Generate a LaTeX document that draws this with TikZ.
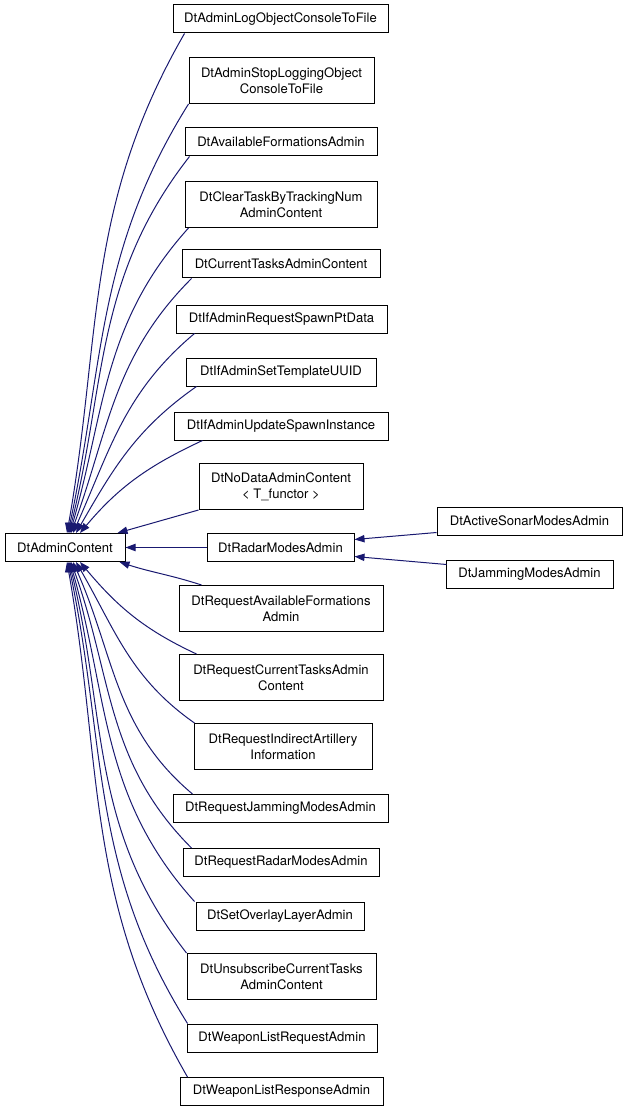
\documentclass[tikz,border=0pt]{standalone}
\usepackage{fontspec}
\setmainfont{TeX Gyre Heros}
\usetikzlibrary{arrows.meta,calc}
\definecolor{navy}{HTML}{191970}

\tikzset{
  cls/.style={draw=black, line width=0.75pt, fill=white, align=center,
    minimum width=#1*0.75pt, minimum height=21pt, inner ysep=2pt,
    font=\fontsize{9.8}{12}\selectfont},
  tall/.style={minimum height=34.5pt},
  inherit/.style={draw=navy, line width=0.75pt,
    -{Triangle[length=7.5pt,width=5.5pt]}, navy}
}

\begin{document}
\begin{tikzpicture}[x=0.75pt,y=-0.75pt]
        \useasboundingbox (0,0) rectangle (627,1112);
        % base class
        \node[cls=120] (base) at (65,547.5) {DtAdminContent};
        % derived classes
        \node[cls=215] (logobj) at (280.5,19) {DtAdminLogObjectConsoleToFile};
        \node[cls=185,tall] (stoplog) at (281.5,80.5) {DtAdminStopLoggingObject\\ConsoleToFile};
        \node[cls=192] (availform) at (281,142) {DtAvailableFormationsAdmin};
        \node[cls=192,tall] (cleartask) at (281,204.5) {DtClearTaskByTrackingNum\\AdminContent};
        \node[cls=198] (curtasks) at (281,264) {DtCurrentTasksAdminContent};
        \node[cls=211] (spawnpt) at (281.5,319) {DtIfAdminRequestSpawnPtData};
        \node[cls=190] (templ) at (281,372) {DtIfAdminSetTemplateUUID};
        \node[cls=214] (spawninst) at (281,426) {DtIfAdminUpdateSpawnInstance};
        \node[cls=164,tall] (nodata) at (281,486.5) {DtNoDataAdminContent\\< T\_functor >};
        \node[cls=147] (radar) at (280.5,547.5) {DtRadarModesAdmin};
        \node[cls=204,tall] (reqform) at (281,608.5) {DtRequestAvailableFormations\\Admin};
        \node[cls=204,tall] (reqtasks) at (281,677.5) {DtRequestCurrentTasksAdmin\\Content};
        \node[cls=178,tall] (reqart) at (283,746.5) {DtRequestIndirectArtillery\\Information};
        \node[cls=215] (reqjam) at (280.5,808.5) {DtRequestJammingModesAdmin};
        \node[cls=196] (reqradar) at (281,862.5) {DtRequestRadarModesAdmin};
        \node[cls=168] (overlay) at (280,916) {DtSetOverlayLayerAdmin};
        \node[cls=189,tall] (unsub) at (281.5,976.5) {DtUnsubscribeCurrentTasks\\AdminContent};
        \node[cls=190] (wpnreq) at (282,1038) {DtWeaponListRequestAdmin};
        \node[cls=203] (wpnresp) at (281.5,1091.5) {DtWeaponListResponseAdmin};
        % radar modes subclasses
        \node[cls=185] (sonar) at (529.5,521) {DtActiveSonarModesAdmin};
        \node[cls=167] (jamming) at (529.5,574) {DtJammingModesAdmin};

        % inheritance edges, upper half
        \draw[inherit] ($(logobj.south west)+(12,0)$) to[out=-120,in=80] ($(base.north)+(2,0)$);
        \draw[inherit] ($(stoplog.south west)+(0,0)$) to[out=-122,in=78] ($(base.north)+(3,0)$);
        \draw[inherit] ($(availform.south west)+(5,0)$) to[out=-128,in=76] ($(base.north)+(4,0)$);
        \draw[inherit] ($(cleartask.south west)+(4,0)$) to[out=-132,in=74] ($(base.north)+(5,0)$);
        \draw[inherit] ($(curtasks.south west)+(10,0)$) to[out=-135,in=70] ($(base.north)+(6,0)$);
        \draw[inherit] ($(spawnpt.south west)+(19,0)$) to[out=-140,in=66] ($(base.north)+(8,0)$);
        \draw[inherit] ($(templ.south west)+(11,0)$) to[out=-145,in=60] ($(base.north)+(11,0)$);
        \draw[inherit] ($(spawninst.south west)+(29,0)$) to[out=-155,in=50] ($(base.north)+(15,0)$);
        \draw[inherit] (nodata.south west) -- ($(base.north east)+(-8,0)$);
        \draw[inherit] (radar.west) -- (base.east);
        % lower half
        \draw[inherit] ($(reqform.north west)+(23,0)$) to[out=162,in=-18] ($(base.south east)+(-6,0)$);
        \draw[inherit] ($(reqtasks.north west)+(18,0)$) to[out=155,in=-50] ($(base.south)+(15,0)$);
        \draw[inherit] ($(reqart.north west)+(1,0)$) to[out=145,in=-60] ($(base.south)+(11,0)$);
        \draw[inherit] ($(reqjam.north west)+(20,0)$) to[out=140,in=-66] ($(base.south)+(8,0)$);
        \draw[inherit] ($(reqradar.north west)+(9,0)$) to[out=135,in=-70] ($(base.south)+(6,0)$);
        \draw[inherit] ($(overlay.north west)+(-1,0)$) to[out=132,in=-74] ($(base.south)+(5,0)$);
        \draw[inherit] (unsub.north west) to[out=128,in=-76] ($(base.south)+(4,0)$);
        \draw[inherit] ($(wpnreq.north west)+(1,0)$) to[out=122,in=-78] ($(base.south)+(3,0)$);
        \draw[inherit] ($(wpnresp.north west)+(8,0)$) to[out=120,in=-80] ($(base.south)+(2,0)$);
        % radar modes
        \draw[inherit] ($(sonar.south west)+(0,-3)$) -- ($(radar.east)+(0,-8)$);
        \draw[inherit] ($(jamming.north west)+(1,5)$) -- ($(radar.east)+(0,9)$);
      \end{tikzpicture}
\end{document}
